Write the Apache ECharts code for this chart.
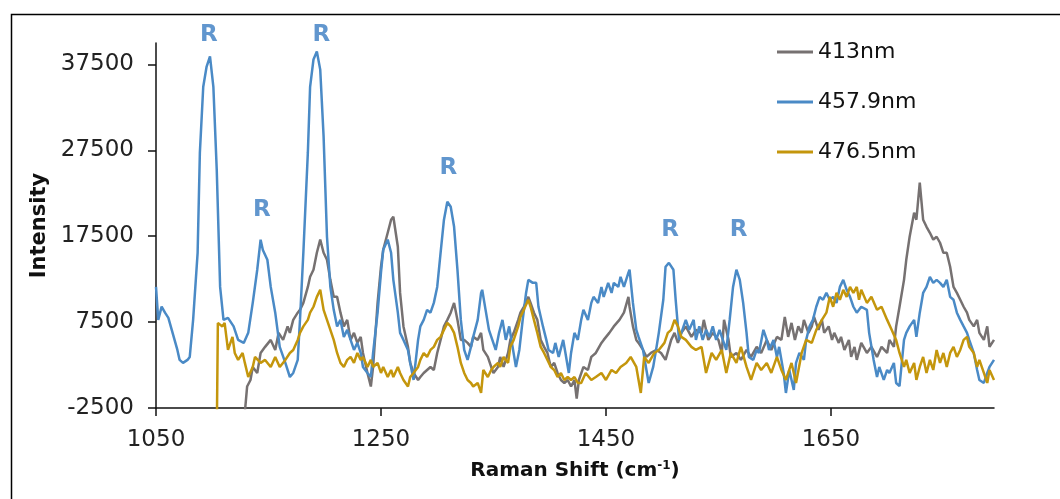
<!DOCTYPE html>
<html>
<head>
<meta charset="utf-8">
<script src="https://cdn.jsdelivr.net/npm/echarts@6/dist/echarts.min.js"></script>
<style>
html,body{margin:0;padding:0;background:#fff;}
#chart{width:1060px;height:499px;}
</style>
</head>
<body>
<div id="chart"></div>
<script>
// ---- data (Raman shift in cm-1, intensity) ----
const seriesNames = ['413nm', '457.9nm', '476.5nm'];

const x413 = [1129,1131,1134,1136,1140,1143,1147,1152,1156,1159,1163,1167,1169,1172,1176,1178,1181,1185,1187,1190,1193,1196,1199,1202,1205,1208,1211,1214,1217,1220,1223,1226,1229,1232,1234,1238,1241,1243,1247,1250,1252,1256,1259,1261,1265,1267,1270,1274,1276,1279,1283,1285,1288,1291,1294,1297,1300,1303,1306,1309,1312,1315,1318,1321,1324,1327,1330,1332,1336,1339,1341,1345,1348,1350,1354,1356,1359,1363,1365,1368,1372,1374,1377,1381,1383,1386,1389,1392,1395,1398,1401,1404,1407,1410,1413,1416,1419,1422,1424,1426,1430,1434,1437,1441,1446,1448,1453,1457,1462,1466,1470,1471,1474,1477,1479,1483,1486,1490,1495,1499,1503,1508,1511,1514,1517,1521,1526,1530,1535,1537,1541,1545,1548,1550,1553,1555,1559,1561,1566,1570,1575,1579,1584,1588,1593,1597,1602,1606,1609,1612,1615,1618,1621,1624,1626,1630,1633,1635,1639,1642,1644,1648,1651,1653,1657,1659,1662,1666,1668,1671,1673,1677,1682,1686,1691,1695,1700,1702,1706,1708,1711,1715,1717,1720,1724,1726,1729,1732,1735,1738,1741,1744,1747,1750,1753,1756,1759,1762,1765,1768,1771,1773,1777,1780,1782,1786,1789,1791,1795];
const y413 = [-3000,0,765,2280,1580,3910,4620,5430,4260,6250,5430,7000,6250,7760,8600,8930,9740,11600,12780,13600,15570,17100,15570,14760,12420,10440,10440,8600,7000,7760,5430,6250,5080,5780,3910,1580,0,2280,9740,13940,15920,17900,19420,19770,16270,10900,7000,4620,2750,1580,765,1110,1580,1930,2280,1930,3910,5430,7000,7760,8600,9740,7760,5430,5430,5080,4620,5780,5430,6250,4260,3450,2280,1580,2280,3450,2280,3910,5430,6250,7760,8600,9290,10440,9740,8600,7760,5430,4620,3910,2280,2750,1580,765,415,765,0,765,-1400,765,2280,1930,3450,3910,5080,5430,6250,7000,7760,8600,10440,9290,7000,5430,5080,4260,3450,3910,4260,3910,3100,5430,6250,5080,6250,7000,5780,6600,6250,7760,5430,6250,5780,5430,3910,7760,5430,3450,3910,3100,4260,3450,4620,3910,5430,4260,5780,5430,8110,5780,7410,5430,7000,6250,7760,6250,7000,8110,6600,7760,6250,7000,5430,6250,5080,5780,4260,5430,3450,4620,3100,5080,3910,4620,3450,4620,3910,5430,4620,7000,9290,12420,14760,17440,20240,19420,23730,19420,18600,17900,17100,17440,16740,15570,15570,13940,11600,10900,10100,9290,8600,7760,7000,7760,6250,5430,7000,4620,5430];

const x458 = [1050,1052,1055,1058,1061,1064,1069,1071,1074,1078,1080,1083,1087,1089,1092,1095,1098,1101,1104,1107,1110,1114,1119,1123,1128,1132,1136,1140,1143,1145,1149,1152,1156,1160,1165,1169,1172,1176,1178,1181,1185,1187,1190,1193,1196,1199,1202,1205,1208,1211,1214,1217,1220,1223,1226,1229,1232,1234,1238,1241,1243,1247,1250,1252,1256,1259,1261,1265,1267,1270,1274,1276,1279,1283,1285,1288,1291,1294,1297,1300,1303,1306,1309,1312,1315,1318,1321,1324,1327,1330,1332,1336,1339,1340,1343,1346,1349,1352,1355,1358,1361,1364,1367,1370,1373,1376,1379,1381,1385,1388,1390,1394,1397,1399,1403,1405,1408,1412,1414,1417,1419,1422,1425,1428,1430,1434,1437,1439,1443,1446,1448,1452,1455,1457,1461,1463,1466,1470,1471,1474,1477,1479,1483,1486,1488,1492,1495,1497,1501,1503,1506,1510,1512,1515,1519,1521,1524,1528,1530,1533,1536,1539,1542,1545,1548,1551,1553,1557,1560,1563,1566,1569,1572,1575,1577,1581,1584,1586,1590,1593,1595,1599,1602,1604,1608,1610,1613,1617,1619,1622,1626,1628,1631,1634,1637,1640,1643,1646,1649,1652,1655,1658,1661,1664,1667,1670,1673,1675,1677,1682,1684,1688,1691,1693,1697,1700,1702,1706,1708,1711,1715,1717,1720,1724,1726,1729,1732,1735,1738,1741,1744,1747,1750,1753,1756,1759,1762,1765,1768,1771,1773,1777,1780,1782,1786,1789,1791,1795];
const y458 = [11600,7760,9300,8600,8000,6600,4260,3100,2750,3100,3450,7760,15570,27230,34900,37260,38430,34900,25250,11600,7760,8000,7000,5430,5080,6250,9740,13600,17100,15900,14760,11600,8600,4620,2750,1110,1580,3100,7760,15570,27230,34900,38080,39000,36900,29100,17440,11600,8930,7000,7760,5780,6600,5430,4260,5080,3910,2280,1580,1110,3910,8600,13250,15920,17100,15570,12420,8600,6250,5430,4260,2750,765,5430,7000,7760,8930,8600,9740,11600,15570,19420,21520,20940,18600,13590,7760,4260,3100,4620,5780,7760,10900,11260,8930,6600,5430,4260,6250,7760,5430,7000,4620,2280,4260,7760,10900,12420,12070,12070,9290,7000,5430,4260,3910,5080,3450,5430,3910,1580,3910,6250,5430,7760,8930,7760,9740,10440,9740,11600,10440,12070,10900,12070,11600,12780,11600,13250,13600,9740,6600,5780,4260,1930,415,2280,4620,6250,10100,13940,14400,13600,10100,5430,7000,7760,6600,7760,5430,7000,5430,6600,5780,7000,5430,6600,5780,4260,7760,11600,13600,12420,9740,6250,3450,3100,4260,3910,6600,5430,4260,5430,3450,4620,1580,-750,1930,-400,2750,3910,3100,5430,7000,7760,9290,10440,10100,10900,10100,10440,9740,11600,12420,11260,10440,9290,8600,8930,9290,8930,6250,3100,1110,2280,765,1930,1580,2750,415,50,5430,6250,7000,7760,5780,8600,10900,11600,12780,12070,12420,12070,11600,12420,10440,10100,8600,7760,7000,6250,5430,3910,1930,765,415,1580,2280,3100];

const x477 = [1104,1105,1109,1111,1114,1118,1120,1123,1127,1129,1132,1136,1138,1143,1147,1152,1156,1160,1165,1169,1172,1176,1178,1181,1185,1187,1190,1193,1196,1199,1202,1205,1208,1211,1214,1217,1220,1223,1226,1229,1232,1234,1238,1241,1243,1247,1250,1252,1256,1259,1261,1265,1267,1270,1274,1276,1279,1283,1285,1288,1291,1294,1297,1300,1303,1306,1309,1312,1315,1318,1321,1324,1327,1330,1332,1336,1339,1341,1345,1348,1350,1354,1356,1359,1363,1365,1368,1372,1374,1377,1381,1383,1386,1389,1392,1395,1398,1401,1404,1407,1410,1413,1416,1419,1422,1425,1428,1432,1437,1441,1446,1450,1455,1459,1463,1468,1472,1477,1481,1484,1488,1493,1497,1502,1505,1508,1511,1514,1517,1521,1526,1530,1535,1539,1544,1548,1553,1557,1561,1566,1570,1575,1579,1584,1588,1593,1597,1602,1606,1610,1615,1619,1624,1628,1633,1637,1642,1646,1649,1652,1655,1658,1661,1664,1667,1670,1673,1675,1677,1682,1686,1691,1695,1700,1704,1708,1711,1715,1717,1720,1724,1726,1729,1732,1735,1738,1741,1744,1747,1750,1753,1756,1759,1762,1765,1768,1771,1773,1777,1780,1782,1786,1789,1791,1795];
const y477 = [-6000,7410,7000,7410,4260,5780,3910,3100,3910,2750,1110,2280,3450,2750,3100,2280,3450,2280,3100,3910,4260,5430,6250,7000,7760,8600,9290,10440,11260,8930,7760,6600,5430,3910,2750,2280,3100,3450,2750,3910,3100,3450,2280,3100,2280,2750,1580,2280,1110,1930,1110,2280,1580,765,0,1110,1580,2280,3100,3910,3450,4260,4620,5430,5780,6600,7410,7000,6250,4620,2750,1580,765,415,0,415,-750,1930,1110,1930,2280,2750,2280,3450,2750,4620,5430,7000,8110,8930,10100,9290,7760,6250,4620,3910,3100,2280,1930,1110,1580,765,1110,765,1110,415,415,1580,765,1110,1580,765,1930,1580,2280,2750,3450,2280,-750,3450,2750,3910,4260,5080,6250,6600,7760,7000,5780,5430,4620,4260,4620,1580,3910,3100,4260,1580,3910,2750,4620,2280,765,2750,1930,2750,1580,3450,1930,765,2750,415,3910,5430,5080,6600,7760,8600,10440,9290,10900,10100,11260,10440,11600,10900,11600,10100,11260,9740,10440,8930,9290,7760,6600,5430,3910,2280,3100,1580,2750,765,2280,3450,1580,3100,1930,4260,2750,3910,2280,3910,4620,3450,4260,5430,5780,4620,3910,2280,3100,1580,415,1930,765];

// "R" annotation marks (Raman shift, intensity where the letter sits)
const rX = [1097, 1144, 1197, 1310, 1507, 1568];
const rY = [40875, 20590, 40875, 25480, 18250, 18250];

// axis ticks
const xTicks = [1050, 1250, 1450, 1650];
const yTicks = [-2500, 7500, 17500, 27500, 37500];

const colors = ['#767171', '#4a8ac6', '#c4960c'];
const FONT = 'DejaVu Sans';

function pairs(xs, ys) { return xs.map((x, i) => [x, ys[i]]); }

const chart = echarts.init(document.getElementById('chart'), null, {renderer: 'canvas'});
chart.setOption({
  animation: false,
  backgroundColor: '#fff',
  graphic: [{
    type: 'rect', left: 9, top: 12, z: -10,
    shape: {width: 1200, height: 700},
    style: {fill: 'none', stroke: '#000', lineWidth: 1.5}
  }],
  grid: {left: 156, right: 66, top: 43, bottom: 91},
  legend: {
    data: seriesNames,
    orient: 'vertical',
    left: 772, top: 34,
    icon: 'rect', itemWidth: 36, itemHeight: 3, itemGap: 24,
    textStyle: {fontFamily: FONT, fontSize: 22, color: '#111', lineHeight: 26}
  },
  xAxis: {
    type: 'value', min: 1050, max: 1795,
    name: '{a|Raman Shift (cm}{s|-1}{a|)}',
    nameLocation: 'middle', nameGap: 52,
    nameTextStyle: {
      rich: {
        a: {fontFamily: FONT, fontSize: 20, fontWeight: 'bold', color: '#111'},
        s: {fontFamily: FONT, fontSize: 12, fontWeight: 'bold', color: '#111', verticalAlign: 'top', padding: [0, 0, 10, 0]}
      }
    },
    axisLine: {onZero: false, lineStyle: {color: '#111', width: 1.5}},
    axisTick: {show: true, length: 8, customValues: xTicks, lineStyle: {color: '#111', width: 1.5}},
    axisLabel: {customValues: xTicks, margin: 21, fontFamily: FONT, fontSize: 23, color: '#222', formatter: v => String(v)},
    splitLine: {show: false}
  },
  yAxis: {
    type: 'value', min: -2500, max: 40000,
    name: 'Intensity', nameLocation: 'middle', nameGap: 97, nameRotate: 90,
    nameTextStyle: {fontFamily: FONT, fontSize: 21, fontWeight: 'bold', color: '#111'},
    axisLine: {show: true, onZero: false, lineStyle: {color: '#111', width: 1.5}},
    axisTick: {show: true, length: 8, customValues: yTicks, lineStyle: {color: '#111', width: 1.5}},
    axisLabel: {customValues: yTicks, margin: 22, fontFamily: FONT, fontSize: 23, color: '#222', formatter: v => String(v)},
    splitLine: {show: false}
  },
  series: [
    {name: seriesNames[0], type: 'line', data: pairs(x413, y413), symbol: 'none', color: colors[0], lineStyle: {width: 2.5, color: colors[0]}, z: 2},
    {name: seriesNames[1], type: 'line', data: pairs(x458, y458), symbol: 'none', color: colors[1], lineStyle: {width: 2.5, color: colors[1]}, z: 3},
    {name: seriesNames[2], type: 'line', data: pairs(x477, y477), symbol: 'none', color: colors[2], lineStyle: {width: 2.5, color: colors[2]}, z: 4},
    {
      name: 'R', type: 'scatter', data: pairs(rX, rY), symbolSize: 1, clip: false, z: 5,
      itemStyle: {color: 'rgba(0,0,0,0)'},
      label: {show: true, position: 'inside', formatter: 'R', fontFamily: FONT, fontSize: 23, fontWeight: 'bold', color: '#3a7cc2'}
    }
  ]
});
</script>
</body>
</html>
